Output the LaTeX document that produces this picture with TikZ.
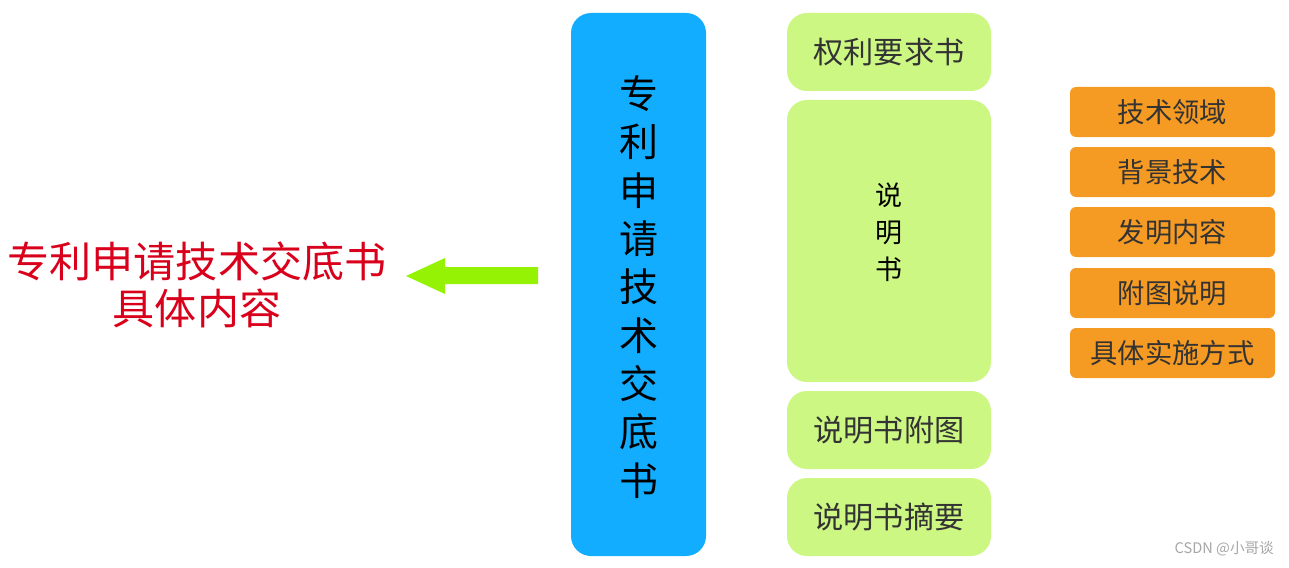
\documentclass[tikz,border=0pt]{standalone}
\usepackage{fontspec}
\setmainfont{Noto Sans CJK SC}
\newfontfamily\cjk{Noto Sans CJK SC}
\usetikzlibrary{shapes.arrows}
\definecolor{bluebox}{HTML}{12ADFF}
\definecolor{greenbox}{HTML}{CCF783}
\definecolor{orangebox}{HTML}{F59A23}
\definecolor{arrowgreen}{HTML}{95F204}
\definecolor{redtext}{HTML}{D9001B}
\definecolor{darktext}{HTML}{333333}
\tikzset{
  x=1pt,y=-1pt,
  bigbox/.style={fill=bluebox,draw=none,rounded corners=20pt},
  greenbx/.style={fill=greenbox,draw=none,rounded corners=20pt},
  orangebx/.style={fill=orangebox,draw=none,rounded corners=6pt},
  gtext/.style={text=darktext,font=\fontsize{30.2}{34}\selectfont},
  otext/.style={text=darktext,font=\fontsize{27.3}{30}\selectfont},
}
\begin{document}
\begin{tikzpicture}
\useasboundingbox (0,0) rectangle (1289,567);
% blue main box
\fill[bigbox] (571,13) rectangle (706,556);
\node[text=black,font=\fontsize{39}{48.3}\selectfont,align=center,inner sep=0] (main) at (638.5,287)
  {专\\利\\申\\请\\技\\术\\交\\底\\书};
% green boxes
\fill[greenbx] (787,13) rectangle (991,91);
\node[gtext] (g1) at (889,52) {权利要求书};
\fill[greenbx] (787,100) rectangle (991,382);
\node[text=black,font=\fontsize{27}{37}\selectfont,align=center,inner sep=0] (g2) at (889,232) {说\\明\\书};
\fill[greenbx] (787,391) rectangle (991,469);
\node[gtext] (g3) at (889,430) {说明书附图};
\fill[greenbx] (787,478) rectangle (991,556);
\node[gtext] (g4) at (889,517) {说明书摘要};
% orange boxes
\fill[orangebx] (1070,87) rectangle (1275,137);
\node[otext] (o1) at (1172.5,112) {技术领域};
\fill[orangebx] (1070,147) rectangle (1275,197);
\node[otext] (o2) at (1172.5,172) {背景技术};
\fill[orangebx] (1070,207) rectangle (1275,257);
\node[otext] (o3) at (1172.5,232) {发明内容};
\fill[orangebx] (1070,268) rectangle (1275,318);
\node[otext] (o4) at (1172.5,293) {附图说明};
\fill[orangebx] (1070,328) rectangle (1275,378);
\node[otext] (o5) at (1172.5,353) {具体实施方式};
% arrow
\fill[arrowgreen] (538,267) -- (445,267) -- (445,258) -- (406,276) -- (445,294) -- (445,284) -- (538,284) -- cycle;
% red text
\node[text=redtext,font=\fontsize{42.1}{47}\selectfont,align=center,inner sep=0] (title) at (197,285)
  {专利申请技术交底书\\具体内容};
% watermark
\node[text=gray!70,font=\fontsize{14.6}{16}\selectfont,anchor=east,inner sep=0] (wm) at (1274,549) {CSDN @小哥谈};
\end{tikzpicture}
\end{document}
